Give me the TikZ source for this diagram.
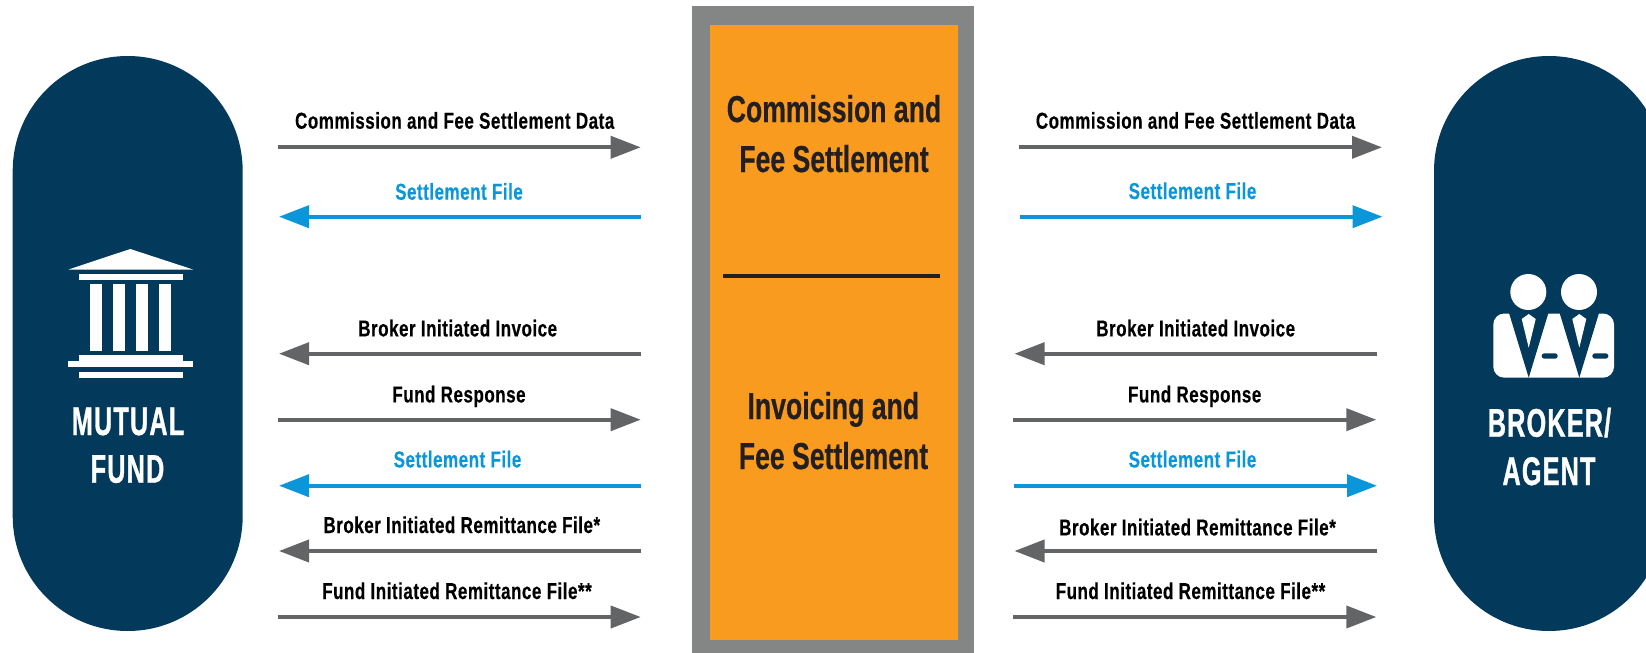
\documentclass[tikz,border=0pt]{standalone}
\usepackage{fontspec}
\setmainfont{Liberation Sans}
\newfontfamily\flowfont[FakeStretch=0.74,LetterSpace=2.2,BoldFeatures={FakeBold=0.4}]{Liberation Sans}
\newfontfamily\titlefont[FakeStretch=0.71,BoldFeatures={FakeBold=0.4}]{Liberation Sans}
\newfontfamily\partyfont[FakeStretch=0.63,LetterSpace=3,BoldFeatures={FakeBold=0.8}]{Liberation Sans}
\usetikzlibrary{arrows.meta}
\definecolor{navy}{HTML}{03395A}
\definecolor{frame}{HTML}{848685}
\definecolor{amber}{HTML}{F99B1E}
\definecolor{ink}{HTML}{231F20}
\definecolor{flowgray}{HTML}{636466}
\definecolor{flowblue}{HTML}{0A96D8}

\begin{document}
\begin{tikzpicture}[ x=1pt, y=-1pt, >={Triangle[length=30pt,width=22pt]},
        pill/.style={ fill=navy, minimum width=230pt, minimum height=575pt,
          rounded corners=114.9pt, inner sep=0pt },
        panel/.style={ minimum width=#1, inner sep=0pt },
        grayflow/.style={ ->, line width=3.9pt, draw=flowgray, fill=flowgray },
        blueflow/.style={ ->, line width=3.9pt, draw=flowblue, fill=flowblue },
        grayflowtext/.style={ anchor=base, inner sep=0pt, font=\flowfont\bfseries\fontsize{23}{23}\selectfont },
        blueflowtext/.style={ grayflowtext, text=flowblue },
        title/.style={ anchor=base, inner sep=0pt, text=ink, font=\titlefont\bfseries\fontsize{37.5}{37.5}\selectfont },
        partytext/.style={ anchor=base, inner sep=0pt, text=white, font=\partyfont\bfseries\fontsize{40}{40}\selectfont },
        icon/.style={ fill=white },
        cutout/.style={ fill=navy } ]
        \useasboundingbox (0,0) rectangle (1646,653);

        % the two parties
        \node[pill] (fund) at (127.7,343.5) {};
        \node[pill] (broker) at (1549,343.5) {};
        \node[partytext] (fundA) at (128,435) {MUTUAL};
        \node[partytext] (fundB) at (127.5,482.7) {FUND};
        \node[partytext] (brokerA) at (1549.5,436.7) {BROKER/};
        \node[partytext] (brokerB) at (1549,485) {AGENT};

        % centre panel
        \node[panel=282pt,minimum height=660pt,fill=frame] (outer) at (833,336) {};
        \node[panel=248pt,minimum height=614.7pt,fill=amber] (inner) at (834,332.35) {};
        \node[title] (ttlA) at (834,122) {Commission and};
        \node[title] (ttlB) at (834,172) {Fee Settlement};
        \node[title] (ttlC) at (833.3,419) {Invoicing and};
        \node[title] (ttlD) at (833.5,469) {Fee Settlement};
        \coordinate (sepA) at (723.3,276);
        \coordinate (sepB) at (940,276);
        \draw[ink,line width=4pt] (sepA) -- (sepB);

        % bank icon
        \fill[icon] (130.3,249) -- (193,269.5) -- (68.5,269.5) -- cycle;
        \fill[icon] (79,274) rectangle (183,280);
        \foreach \x in {90,113,136,159}
        \fill[icon] (\x,284) rectangle ++(12,67);
        \fill[icon] (79,355) rectangle (183,361);
        \fill[icon] (68,361) rectangle (193,367);
        \fill[icon] (79,372) rectangle (183,378);

        % people icon
        \fill[icon] (1528.3,292) circle (18);
        \fill[icon] (1579,292) circle (18);
        \fill[icon,rounded corners=11pt] (1493.3,313.5) rectangle (1614,377.7);
        \foreach \x in {1528.7,1579.3} {
          \fill[cutout] (\x-20,312) -- (\x,377.7) -- (\x+20,312) -- cycle;
          \fill[icon] (\x,314) -- (\x+7,319) -- (\x,347.7) -- (\x-7,319) -- cycle;
          \fill[cutout,rounded corners=2.6pt] (\x+13,353.3) rectangle ++(16,5.4);
        }

        % left flows
        \foreach \n/\y/\a/\b/\s in {1/147.3/277.5/640.7/gray,2/216.7/641/279/blue,
          3/353.7/641/279/gray,4/419.7/277.5/640.7/gray,5/485.7/641/279/blue,
          6/551/641/279/gray,7/617/277.5/640.7/gray} {
          \coordinate (la\n) at (\a,\y);
          \coordinate (lb\n) at (\b,\y);
          \draw[\s flow] (la\n) -- (lb\n);
        }
        % right flows
        \foreach \n/\y/\a/\b/\s in {1/147.3/1018.7/1382/gray,2/216.7/1019.7/1382.5/blue,
          3/353.7/1377/1014.5/gray,4/419.7/1013.3/1376.3/gray,5/485.7/1014/1377/blue,
          6/551/1377/1014.5/gray,7/617/1013.3/1376.3/gray} {
          \coordinate (ra\n) at (\a,\y);
          \coordinate (rb\n) at (\b,\y);
          \draw[\s flow] (ra\n) -- (rb\n);
        }

        % flow labels
        \foreach \n/\x/\y/\s/\l in {l1/454.7/128.7/gray/Commission and Fee Settlement Data,
          l2/459/199.7/blue/Settlement File,l3/457.7/336.4/gray/Broker Initiated Invoice,
          l4/459/402.4/gray/Fund Response,l5/457.5/467.4/blue/Settlement File,
          l6/461.8/533/gray/Broker Initiated Remittance File*,
          l7/457/599/gray/Fund Initiated Remittance File**,
          r1/1195.5/128.7/gray/Commission and Fee Settlement Data,
          r2/1192.5/199/blue/Settlement File,r3/1195.7/336.4/gray/Broker Initiated Invoice,
          r4/1194.7/402.4/gray/Fund Response,r5/1192.5/467.4/blue/Settlement File,
          r6/1197.5/535.4/gray/Broker Initiated Remittance File*,
          r7/1190.5/599/gray/Fund Initiated Remittance File**}
        \node[\s flowtext] (txt\n) at (\x,\y) {\l};
      \end{tikzpicture}
\end{document}
